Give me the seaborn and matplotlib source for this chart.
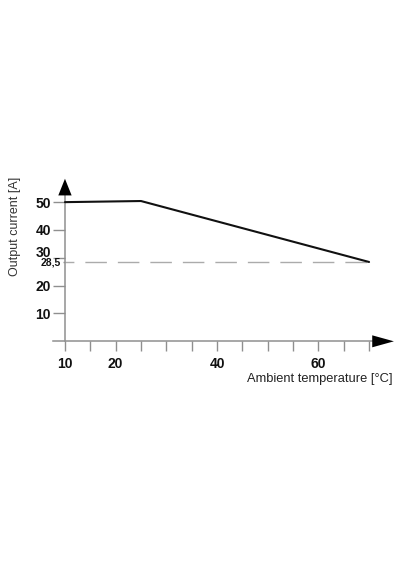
import matplotlib
matplotlib.use('Agg')
import matplotlib.pyplot as plt
import matplotlib.transforms as mtransforms
import seaborn as sns

# derating curve
temps = [10, 25, 70]
currents = [50.0, 50.4, 28.5]

# 28.5 A limit line (dashed)
limit_temps = [10, 70]
limit_current = [28.5, 28.5]

x_major_ticks = [10, 20, 40, 60]
x_minor_ticks = [15, 25, 30, 35, 45, 50, 55, 65, 70]
y_major_ticks = [10, 20, 30, 40, 50]
y_tick_labels = ['10', '20', '30', '40', '50']
y_limit_tick = [28.5]
y_limit_label = ['28,5']

x_label = 'Ambient temperature [°C]'
y_label = 'Output current [A]'

AXIS_GREY = '#8f8f8f'


def main():
    sns.set_theme(style='white')
    plt.rcParams['font.family'] = ['Liberation Sans', 'DejaVu Sans']

    fig = plt.figure(figsize=(4, 5.7), dpi=100)
    ax = fig.add_axes([0.132, 0.4012, 0.854, 0.293])
    ax.set_xlim(7.6, 75)
    ax.set_ylim(0, 60)

    sns.lineplot(x=limit_temps, y=limit_current, ax=ax, color='#ababab', lw=1.0,
                 linestyle=(9.1, (15.5, 7.9)), zorder=2)
    sns.lineplot(x=temps, y=currents, ax=ax, color='#111111', lw=1.5, zorder=3)

    # axes: only left/bottom, grey, crossing at (10, 0)
    sns.despine(ax=ax, top=True, right=True)
    ax.spines['left'].set_position(('data', 10))
    ax.spines['left'].set_bounds(0, 54)
    ax.spines['bottom'].set_bounds(7.6, 72)
    for s in ('left', 'bottom'):
        ax.spines[s].set_color(AXIS_GREY)
        ax.spines[s].set_linewidth(1.1)

    # arrow heads
    ax.annotate('', xy=(74.9, 0), xytext=(70.5, 0), annotation_clip=False,
                arrowprops=dict(arrowstyle='-|>,head_length=1.3,head_width=0.36',
                                color='black', lw=0, shrinkA=0, shrinkB=0))
    ax.annotate('', xy=(10, 58.4), xytext=(10, 52), annotation_clip=False,
                arrowprops=dict(arrowstyle='-|>,head_length=1.0,head_width=0.4',
                                color='black', lw=0, shrinkA=0, shrinkB=0))

    ax.set_xticks(x_major_ticks)
    ax.set_xticks(x_minor_ticks, minor=True)
    ax.set_yticks(y_major_ticks, y_tick_labels)
    ax.set_yticks(y_limit_tick, y_limit_label, minor=True)

    ax.tick_params(axis='x', which='both', direction='out', length=7, width=1,
                   color=AXIS_GREY, pad=4.0, labelsize=10, bottom=True)
    ax.tick_params(axis='y', which='major', direction='out', length=8.6, width=1,
                   color=AXIS_GREY, pad=1.5, labelsize=10, left=True)
    ax.tick_params(axis='y', which='minor', direction='out', length=1.8, width=1,
                   color=AXIS_GREY, pad=1.0, labelsize=7.5, left=True)
    for lbl in ax.get_xticklabels() + ax.get_yticklabels() + ax.get_yticklabels(minor=True):
        lbl.set_fontweight('bold')
        lbl.set_color('#111111')

    # the "30" label sits a little above its tick
    for lbl in ax.get_yticklabels():
        if lbl.get_text() == '30':
            lbl.set_transform(lbl.get_transform() +
                              mtransforms.ScaledTranslation(0, 0.065, fig.dpi_scale_trans))

    ax.set_xlabel(x_label, fontsize=9.3, color='#222222', ha='right')
    ax.xaxis.set_label_coords(0.993, -0.226)
    ax.xaxis.label.set_verticalalignment('center')
    ax.set_ylabel(y_label, fontsize=9, color='#333333')
    ax.yaxis.set_label_coords(-0.112, 0.69)
    ax.yaxis.label.set_verticalalignment('center')

    fig.savefig('out.png', dpi=100)


if __name__ == '__main__':
    main()
